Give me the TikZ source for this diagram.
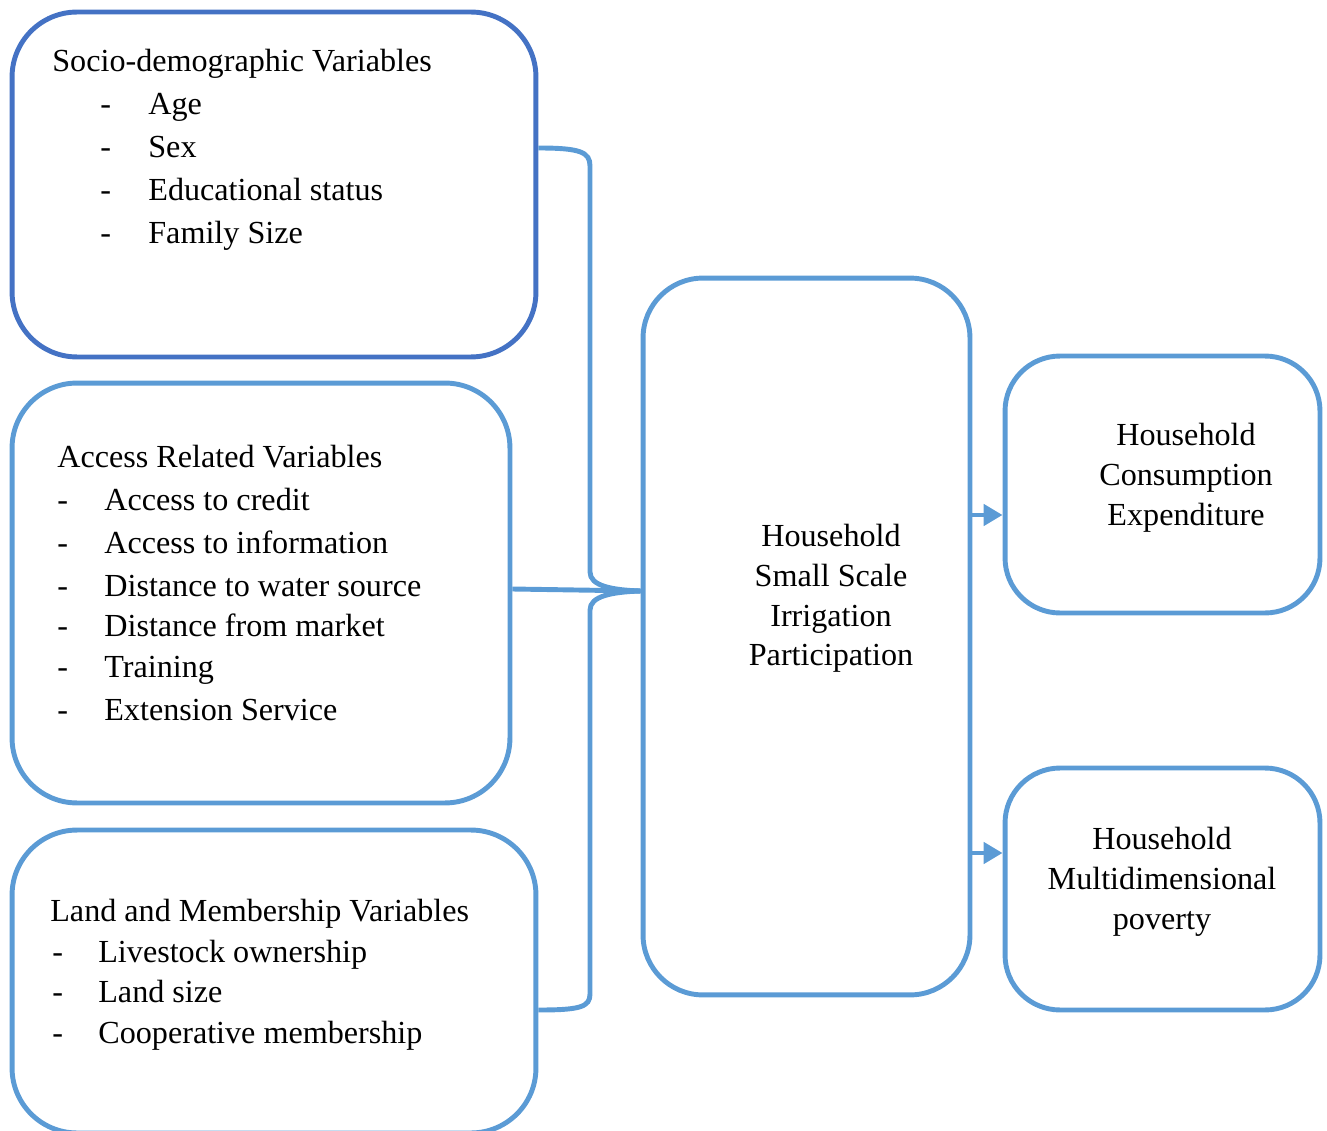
\documentclass[tikz,border=0pt]{standalone}
\usepackage{fontspec}
\setmainfont{Liberation Serif}
\usetikzlibrary{arrows.meta}

\definecolor{darkline}{HTML}{4472C4}
\definecolor{lightline}{HTML}{5B9BD5}

\tikzset{
  varbox/.style={draw=lightline, line width=2.8pt, rounded corners=1.3cm, inner sep=0pt},
  link/.style={draw=lightline, line width=2.8pt},
  txt/.style={inner sep=0pt, font=\fontsize{18.3}{22}\selectfont},
}

\begin{document}
\begin{tikzpicture}[x=0.02cm,y=-0.02cm]
    \useasboundingbox (0,0) rectangle (1327,1131);

    % the boxes
    \node[varbox, draw=darkline, minimum width=10.48cm, minimum height=6.9cm] (socio) at (274,184.5) {};
    \node[varbox, minimum width=9.96cm, minimum height=8.4cm] (access) at (261,593) {};
    \node[varbox, minimum width=10.48cm, minimum height=6.06cm] (land) at (274,981.5) {};
    \node[varbox, rounded corners=1.2cm, minimum width=6.54cm, minimum height=14.34cm] (ssi) at (806.5,636.5) {};
    \node[varbox, rounded corners=1.1cm, minimum width=6.3cm, minimum height=5.14cm] (cons) at (1162.5,484.5) {};
    \node[varbox, rounded corners=1.1cm, minimum width=6.3cm, minimum height=4.84cm] (pov) at (1162.5,889) {};

    % socio-demographic
    \node[txt, anchor=base west] (socio-title) at (52,72) {Socio-demographic Variables};
    \foreach \y/\txt [count=\i] in {115/Age, 158/Sex, 201/Educational status, 244/Family Size} {
        \node[txt, anchor=base west] (socio-d\i) at (100,\y) {-};
        \node[txt, anchor=base west] (socio-\i) at (148,\y) {\txt};
    }

    % access related
    \node[txt, anchor=base west] (access-title) at (57,467) {Access Related Variables};
    \foreach \y/\txt [count=\i] in {510/Access to credit, 553/Access to information, 596/Distance to water source, 636/Distance from market, 677/Training, 720/Extension Service} {
        \node[txt, anchor=base west] (access-d\i) at (57,\y) {-};
        \node[txt, anchor=base west] (access-\i) at (104,\y) {\txt};
    }

    % land and membership
    \node[txt, anchor=base west] (land-title) at (50,921) {Land and Membership Variables};
    \foreach \y/\txt [count=\i] in {962/Livestock ownership, 1002/Land size, 1043/Cooperative membership} {
        \node[txt, anchor=base west] (land-d\i) at (52,\y) {-};
        \node[txt, anchor=base west] (land-\i) at (98,\y) {\txt};
    }

    % outcome texts
    \foreach \y/\txt [count=\i] in {546/Household, 586/Small Scale, 626/Irrigation, 665/Participation}
        \node[txt, anchor=base] (ssi-\i) at (831,\y) {\txt};
    \foreach \y/\txt [count=\i] in {445/Household, 485/Consumption, 525/Expenditure}
        \node[txt, anchor=base] (cons-\i) at (1186,\y) {\txt};
    \foreach \y/\txt [count=\i] in {849/Household, 889/Multidimensional, 929/poverty}
        \node[txt, anchor=base] (pov-\i) at (1162,\y) {\txt};

    % brace into the participation box
    \coordinate (join) at (ssi.west |- 0,591);
    \draw[link] (socio.east |- 0,148) .. controls (580,148) and (590,152) .. (590,166) -- (590,572)
        .. controls (590,586) and (612,590) .. (join);
    \draw[link] (join) .. controls (612,592) and (590,596) .. (590,610) -- (590,994)
        .. controls (590,1007) and (580,1010) .. (land.east |- 0,1010);
    \draw[link] (access.east |- 0,589) -- (join);

    % arrows to the outcomes
    \draw[link, -{Triangle[length=0.38cm,width=0.42cm]}] (ssi.east |- 0,515) -- (cons.west |- 0,515);
    \draw[link, -{Triangle[length=0.38cm,width=0.42cm]}] (ssi.east |- 0,853) -- (pov.west |- 0,853);
\end{tikzpicture}
\end{document}
